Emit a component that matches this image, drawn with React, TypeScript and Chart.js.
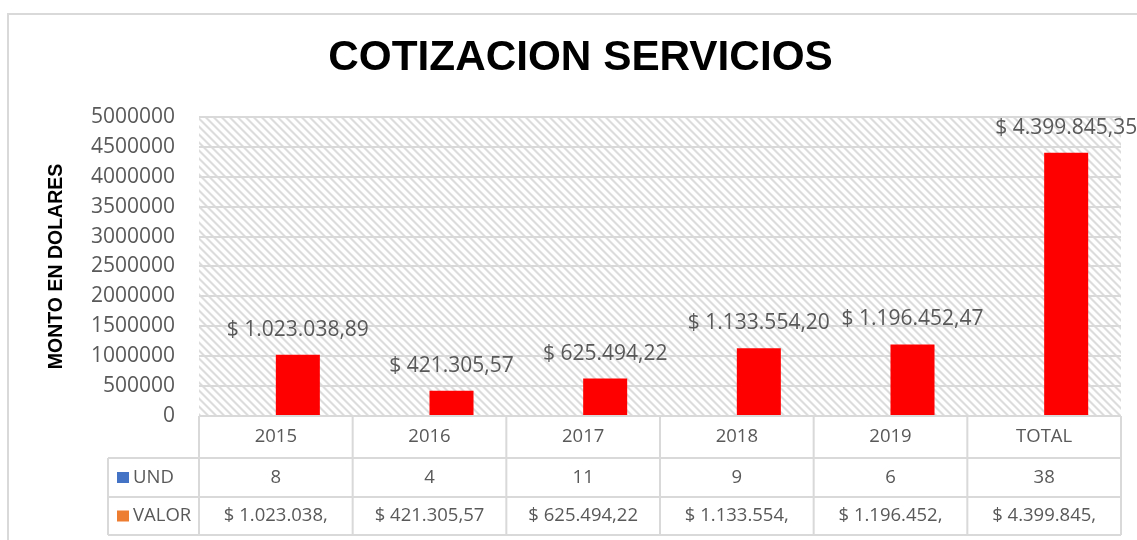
import React, { useEffect, useRef } from "react";
import { Chart, registerables } from "chart.js";

Chart.register(...registerables);

const categories = ["2015", "2016", "2017", "2018", "2019", "TOTAL"];
const undValues = [8, 4, 11, 9, 6, 38];
const valorValues = [1023038.89, 421305.57, 625494.22, 1133554.2, 1196452.47, 4399845.35];
const valorTableLabels = [
  "$ 1.023.038,",
  "$ 421.305,57",
  "$ 625.494,22",
  "$ 1.133.554,",
  "$ 1.196.452,",
  "$ 4.399.845,",
];
const seriesNames = ["UND", "VALOR"];
const seriesColors = ["#4472C4", "#ED7D31"];
const chartTitle = "COTIZACION SERVICIOS";
const yAxisTitle = "MONTO EN DOLARES";

const GREY_TEXT = "#595959";
const LINE = "#d9d9d9";
const SANS = "'Open Sans', sans-serif";

function formatMoney(v: number): string {
  const [ip, dp] = v.toFixed(2).split(".");
  const withDots = ip.replace(/\B(?=(\d{3})+(?!\d))/g, ".");
  return "$ " + withDots + "," + dp;
}

function makeHatch(): CanvasPattern | string {
  const c = document.createElement("canvas");
  c.width = 8;
  c.height = 8;
  const g = c.getContext("2d");
  if (!g) return "#fff";
  const img = g.createImageData(8, 8);
  for (let y = 0; y < 8; y++) {
    for (let x = 0; x < 8; x++) {
      const d = (((x - y) % 8) + 8) % 8;
      let v = 255;
      if (d === 0 || d === 1) v = 220;
      else if (d === 2 || d === 7) v = 238;
      const i = (y * 8 + x) * 4;
      img.data[i] = v;
      img.data[i + 1] = v;
      img.data[i + 2] = v;
      img.data[i + 3] = 255;
    }
  }
  g.putImageData(img, 0, 0);
  const p = g.createPattern(c, "repeat");
  return p || "#fff";
}

const hatchPlugin = {
  id: "hatchBg",
  beforeDraw(chart: any) {
    const { ctx, chartArea } = chart;
    ctx.save();
    ctx.fillStyle = makeHatch();
    ctx.fillRect(chartArea.left, chartArea.top, chartArea.right - chartArea.left, chartArea.bottom - chartArea.top);
    ctx.restore();
  },
};

const labelPlugin = {
  id: "valorLabels",
  afterDatasetsDraw(chart: any) {
    const { ctx } = chart;
    const meta = chart.getDatasetMeta(1);
    ctx.save();
    ctx.font = `21px ${SANS}`;
    ctx.fillStyle = GREY_TEXT;
    ctx.textAlign = "center";
    ctx.textBaseline = "middle";
    meta.data.forEach((el: any, i: number) => {
      ctx.fillText(formatMoney(valorValues[i]), el.x, el.y - 25);
    });
    ctx.restore();
  },
};

const tablePlugin = {
  id: "dataTable",
  afterDraw(chart: any) {
    const { ctx, chartArea } = chart;
    const n = categories.length;
    const left = chartArea.left;
    const right = chartArea.right;
    const w = (right - left) / n;
    const y0 = chartArea.bottom;
    const y1 = y0 + 42;
    const y2 = y0 + 81;
    const y3 = y0 + 119;
    const legendLeft = 108;

    ctx.save();
    ctx.strokeStyle = LINE;
    ctx.lineWidth = 2;
    ctx.beginPath();
    ctx.moveTo(left, y0);
    ctx.lineTo(right, y0);
    [y1, y2, y3].forEach((y) => {
      ctx.moveTo(legendLeft, y);
      ctx.lineTo(right, y);
    });
    for (let i = 0; i <= n; i++) {
      const x = left + i * w;
      ctx.moveTo(x, y0);
      ctx.lineTo(x, y3);
    }
    ctx.moveTo(legendLeft, y1);
    ctx.lineTo(legendLeft, y3);
    ctx.stroke();

    ctx.font = `18.5px ${SANS}`;
    ctx.fillStyle = GREY_TEXT;
    ctx.textAlign = "center";
    ctx.textBaseline = "middle";
    const xs = chart.scales.x;
    for (let i = 0; i < n; i++) {
      const cx = xs.getPixelForValue(i);
      ctx.fillText(String(undValues[i]), cx, (y1 + y2) / 2);
      ctx.fillText(valorTableLabels[i], cx, (y2 + y3) / 2);
    }

    // legend keys
    const rows = [(y1 + y2) / 2, (y2 + y3) / 2];
    ctx.textAlign = "left";
    rows.forEach((cy, k) => {
      ctx.fillStyle = seriesColors[k];
      ctx.fillRect(117, cy - 5.5, 12, 11);
      ctx.fillStyle = GREY_TEXT;
      ctx.fillText(seriesNames[k], 133, cy);
    });

    // chart frame
    ctx.strokeStyle = LINE;
    ctx.lineWidth = 2;
    ctx.strokeRect(8, 14, 2000, 2000);
    ctx.restore();
  },
};

export default function App() {
  const ref = useRef<HTMLCanvasElement | null>(null);

  useEffect(() => {
    if (!ref.current) return;
    const chart = new Chart(ref.current, {
      type: "bar",
      data: {
        labels: categories,
        datasets: [
          {
            label: seriesNames[0],
            data: undValues,
            backgroundColor: "#4472C4",
            categoryPercentage: 0.573,
            barPercentage: 1,
          },
          {
            label: seriesNames[1],
            data: valorValues,
            backgroundColor: "#FF0000",
            categoryPercentage: 0.573,
            barPercentage: 1,
          },
        ],
      },
      options: {
        responsive: false,
        animation: false,
        events: [],
        layout: { padding: { left: 40, right: 16, top: 0, bottom: 0 } },
        plugins: {
          legend: { display: false },
          tooltip: { enabled: false },
          title: {
            display: true,
            text: chartTitle,
            color: "#000",
            font: { family: "'Liberation Sans', Arial, sans-serif", size: 42.3, weight: "bold" },
            padding: { top: 33, bottom: 33.2 },
          },
        },
        scales: {
          x: {
            afterFit(scale: any) {
              scale.height = 124;
            },
            grid: { display: false, drawTicks: false },
            border: { display: false },
            ticks: {
              color: GREY_TEXT,
              font: { family: SANS, size: 18.5 },
              padding: 10,
              maxRotation: 0,
            },
          },
          y: {
            min: 0,
            max: 5000000,
            afterFit(scale: any) {
              scale.width = 159;
            },
            ticks: {
              stepSize: 500000,
              color: GREY_TEXT,
              font: { family: SANS, size: 21 },
              padding: 24,
              callback: (v: any) => String(v),
            },
            grid: { color: LINE, lineWidth: 2, drawTicks: false },
            border: { display: false },
            title: {
              display: true,
              text: yAxisTitle,
              color: "#000",
              font: { family: "'Liberation Sans', Arial, sans-serif", size: 19.5, weight: "bold" },
              padding: { top: 5.3, bottom: 0 },
            },
          },
        },
      },
      plugins: [hatchPlugin, labelPlugin, tablePlugin],
    });
    return () => chart.destroy();
  }, []);

  return (
    <div style={{ position: "fixed", left: 0, top: 0, width: 1137, height: 540, background: "#fff" }}>
      <canvas ref={ref} width={1137} height={540} style={{ display: "block" }} />
    </div>
  );
}
